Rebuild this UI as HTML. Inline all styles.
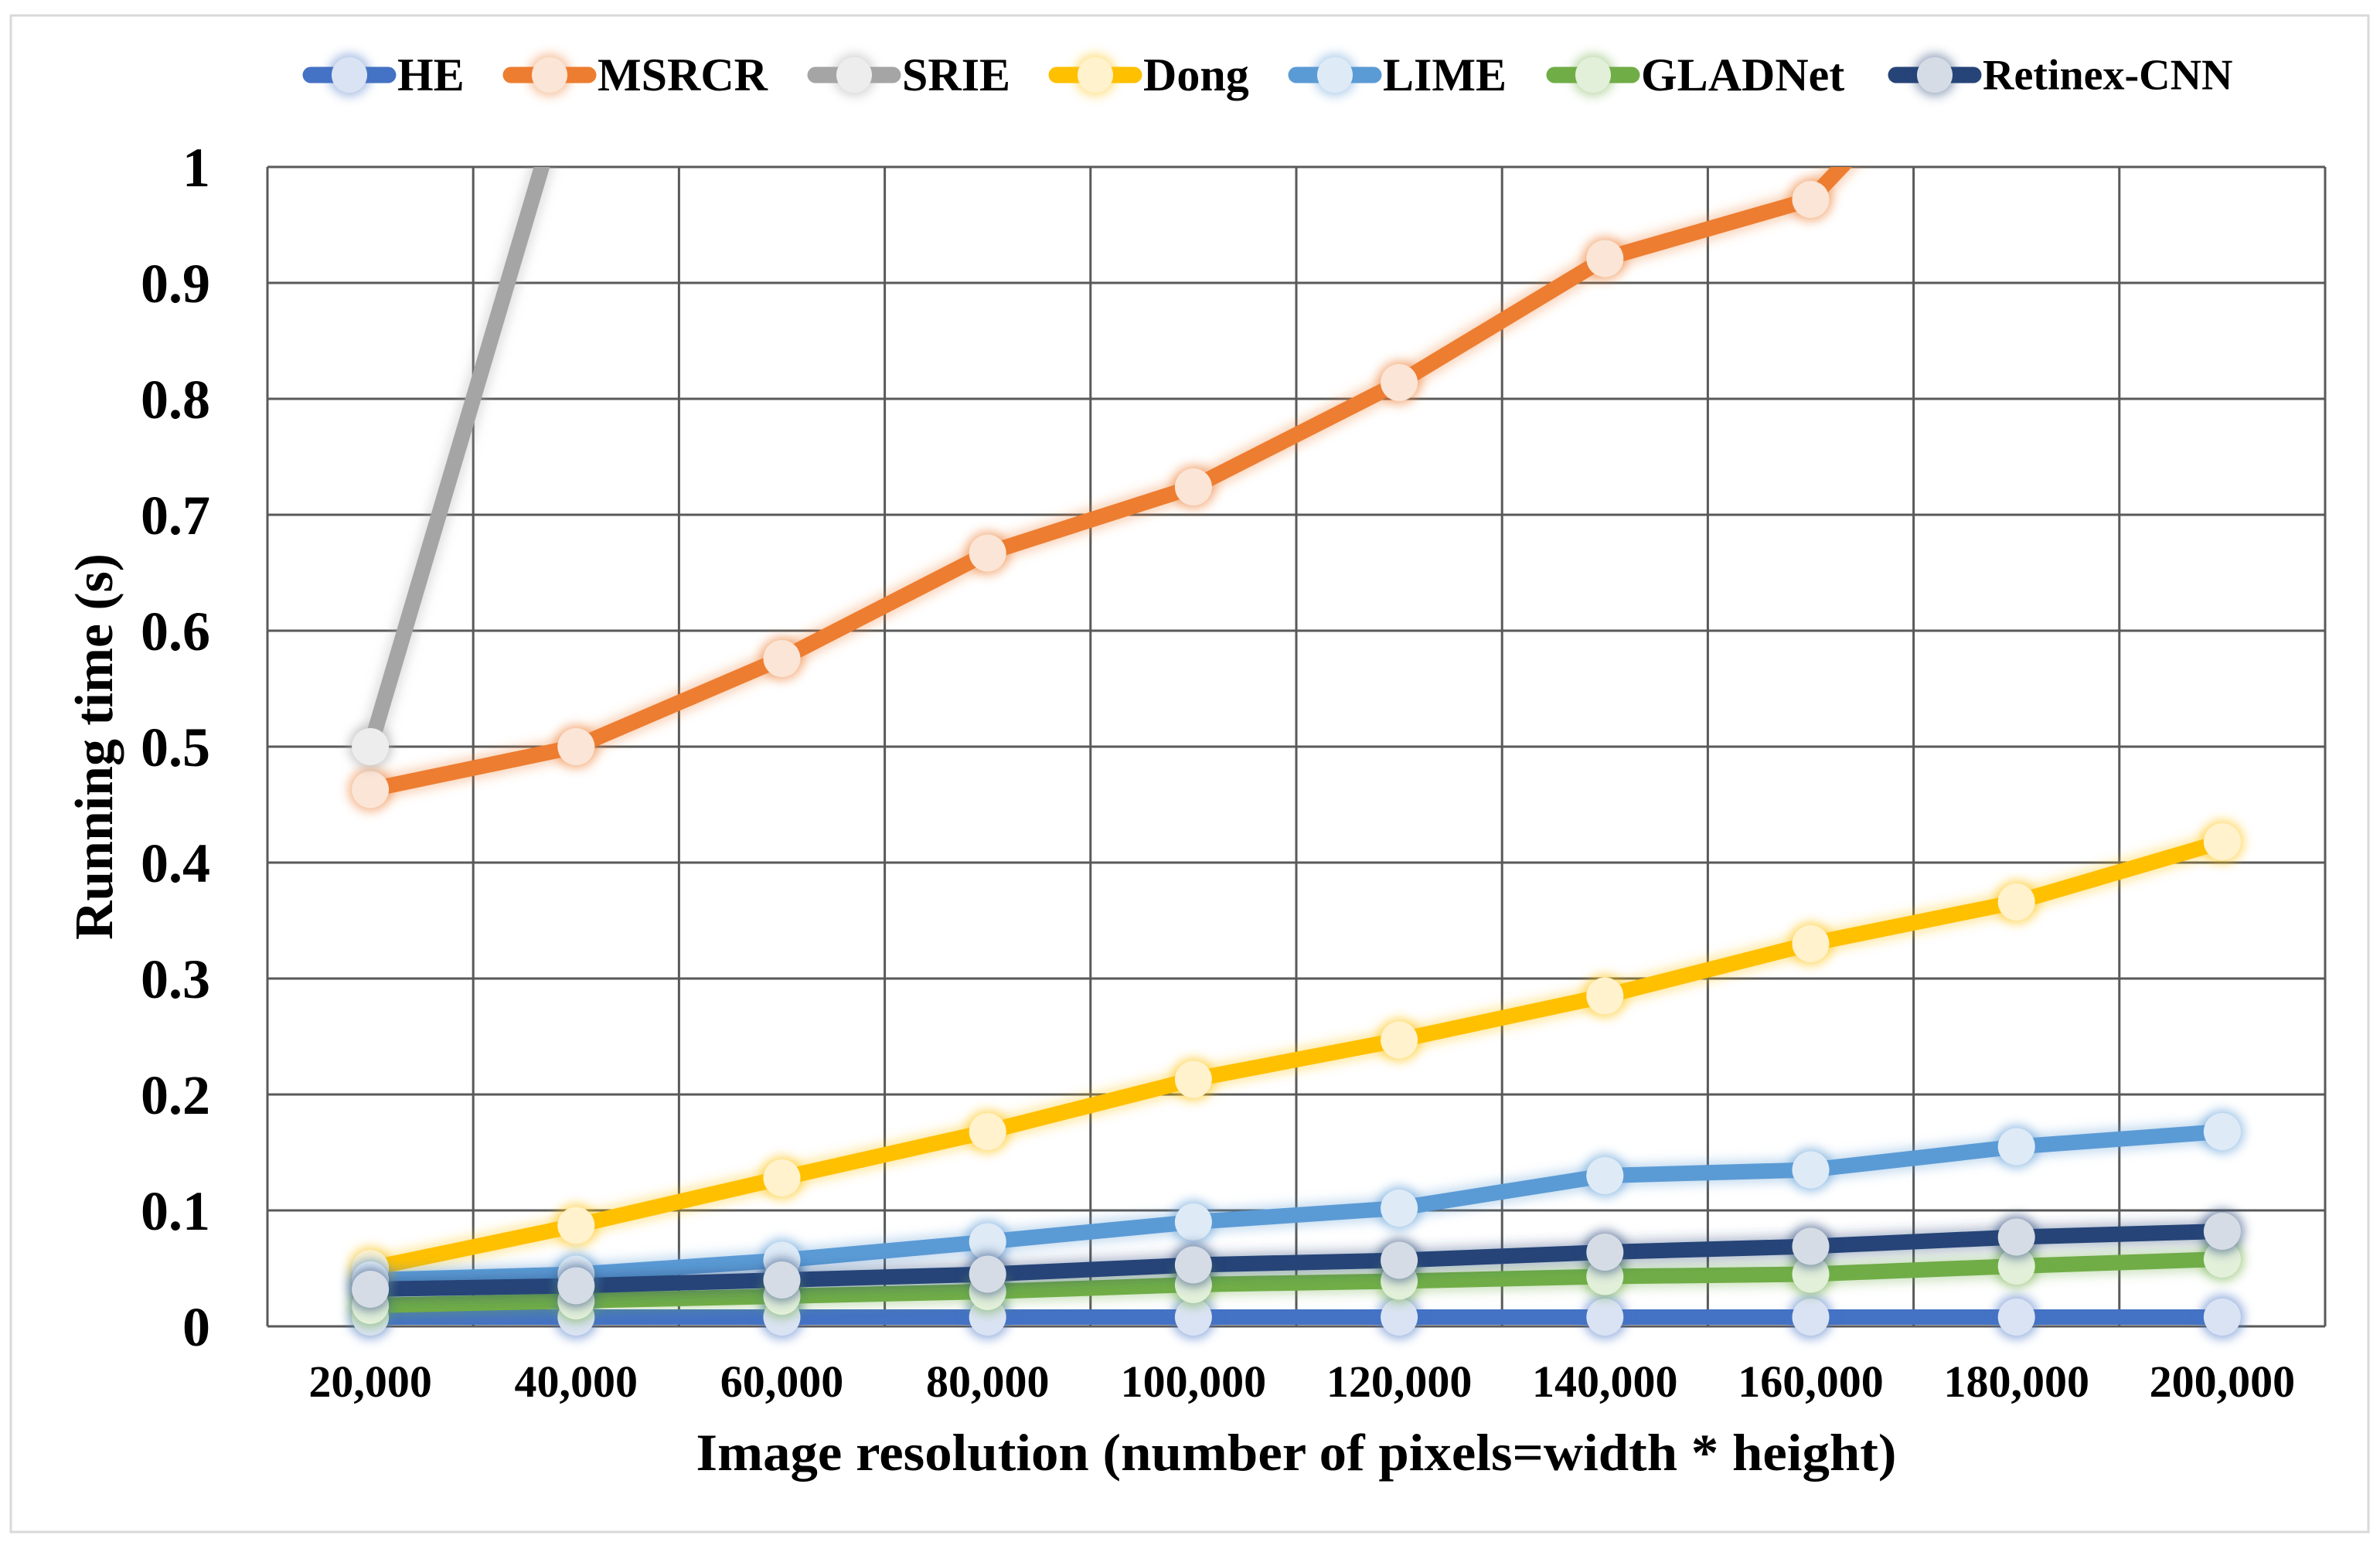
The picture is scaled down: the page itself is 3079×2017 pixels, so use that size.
<!DOCTYPE html>
<html><head><meta charset="utf-8"><style>
html,body{margin:0;padding:0;background:#fff;}
svg{display:block;font-family:"Liberation Serif",serif;font-weight:bold;}
</style></head><body>
<svg id="chart" width="3079" height="2017" viewBox="0 0 3079 2017" xmlns="http://www.w3.org/2000/svg">
<defs>
<filter id="glow" x="-100%" y="-100%" width="300%" height="300%"><feGaussianBlur stdDeviation="7"/></filter>
<clipPath id="plotclip"><rect x="346" y="216" width="2662" height="1500"/></clipPath>
</defs>
<rect x="14" y="20" width="3050" height="1962" fill="#fff" stroke="#d9d9d9" stroke-width="3"/>
<g id="grid"></g>
<g id="yticks"></g>
<g id="xticks"></g>
<g id="series" clip-path="url(#plotclip)"></g>
<g id="markers"></g>
<g id="legend"></g>
<text x="0" y="0" transform="translate(145,966) rotate(-90)" text-anchor="middle" font-size="70" textLength="500" lengthAdjust="spacingAndGlyphs">Running time (s)</text>
<text x="1677" y="1902" text-anchor="middle" font-size="68" textLength="1553" lengthAdjust="spacingAndGlyphs">Image resolution (number of pixels=width * height)</text>
</svg>
<script>
const categories = ["20,000","40,000","60,000","80,000","100,000","120,000","140,000","160,000","180,000","200,000"];
const yTicks = [0,0.1,0.2,0.3,0.4,0.5,0.6,0.7,0.8,0.9,1];
const yTickLabels = ["0","0.1","0.2","0.3","0.4","0.5","0.6","0.7","0.8","0.9","1"];
const seriesNames = ["HE","MSRCR","SRIE","Dong","LIME","GLADNet","Retinex-CNN"];
const heValues = [0.008,0.008,0.008,0.008,0.008,0.008,0.008,0.008,0.008,0.008];
const msrcrValues = [0.463,0.5,0.576,0.667,0.724,0.814,0.921,0.972,1.16,1.3];
const srieValues = [0.5,1.1,1.6,2.1,2.6,3.1,3.6,4.1,4.6,5.1];
const dongValues = [0.05,0.087,0.128,0.168,0.213,0.247,0.285,0.33,0.366,0.418];
const limeValues = [0.04,0.045,0.057,0.073,0.09,0.102,0.13,0.135,0.155,0.168];
const gladnetValues = [0.018,0.022,0.026,0.03,0.036,0.039,0.043,0.045,0.052,0.058];
const retinexValues = [0.032,0.035,0.04,0.045,0.053,0.057,0.064,0.069,0.077,0.082];

const NS="http://www.w3.org/2000/svg";
const L=346,R=3008,T=216,B=1716,yMax=1;
const band=(R-L)/categories.length;
function xPos(i){return L+band*(i+0.5);}
function yPos(v){return B-(v/yMax)*(B-T);}
function mk(tag,attrs,parent){const e=document.createElementNS(NS,tag);for(const k in attrs)e.setAttribute(k,attrs[k]);parent.appendChild(e);return e;}

const grid=document.getElementById('grid');
yTicks.forEach((v,i)=>{
  const ln=mk('line',{x1:L,x2:R,y1:yPos(v),y2:yPos(v),stroke:'#595959','stroke-width':3},grid);
  
  
  const t=mk('text',{x:272,y:yPos(v)+25,'text-anchor':'end','font-size':72},document.getElementById('yticks'));
  t.textContent=yTickLabels[i];
  
  
});
for(let i=0;i<=categories.length;i++){
  const ln=mk('line',{x1:L+band*i,x2:L+band*i,y1:T,y2:B,stroke:'#595959','stroke-width':3},grid);
  
  
}
categories.forEach((c,i)=>{
  const t=mk('text',{x:xPos(i),y:1807,'text-anchor':'middle','font-size':58},document.getElementById('xticks'));
  t.textContent=c;
  
  
});

const allSeries=[heValues,msrcrValues,srieValues,dongValues,limeValues,gladnetValues,retinexValues];
const colors=["#4472C4","#ED7D31","#A5A5A5","#FFC000","#5B9BD5","#70AD47","#264478"];
const fills=["#dae3f3","#fbe5d6","#ededed","#fff2cc","#deebf7","#e2f0d9","#d6dce5"];
const sg=document.getElementById('series'), mg=document.getElementById('markers');
allSeries.forEach((vals,s)=>{
  const pts=vals.map((v,i)=>xPos(i)+','+yPos(v)).join(' ');
  const g=mk('g',{},sg);
  
  
  mk('polyline',{points:pts,fill:'none',stroke:colors[s],'stroke-width':30,'stroke-opacity':0.35,filter:'url(#glow)','stroke-linejoin':'round'},g);
  const pl=mk('polyline',{points:pts,fill:'none',stroke:colors[s],'stroke-width':20,'stroke-linejoin':'round'},g);
  
  
  vals.forEach((v,i)=>{
    if(v>yMax) return;
    mk('circle',{cx:xPos(i),cy:yPos(v),r:28,fill:colors[s],opacity:0.6,filter:'url(#glow)'},mg);
    const c=mk('circle',{cx:xPos(i),cy:yPos(v),r:24,fill:fills[s]},mg);
    
    
  });
});

const legMarkers=[452,711,1105,1417,1727,2061,2503];
const legSizes=[60,60,60,60,60,60,56];
const lg=document.getElementById('legend');
seriesNames.forEach((n,s)=>{
  const g=mk('g',{},lg);
  
  
  const mx=legMarkers[s];
  mk('line',{x1:mx-50,x2:mx+50,y1:97,y2:97,stroke:colors[s],'stroke-width':21,'stroke-linecap':'round'},g);
  mk('circle',{cx:mx,cy:97,r:27,fill:colors[s],opacity:0.5,filter:'url(#glow)'},g);
  mk('circle',{cx:mx,cy:97,r:23,fill:fills[s]},g);
  const t=mk('text',{x:mx+62,y:97+legSizes[s]*0.33,'font-size':legSizes[s]},g);
  t.textContent=n;
});
</script>
</body></html>
